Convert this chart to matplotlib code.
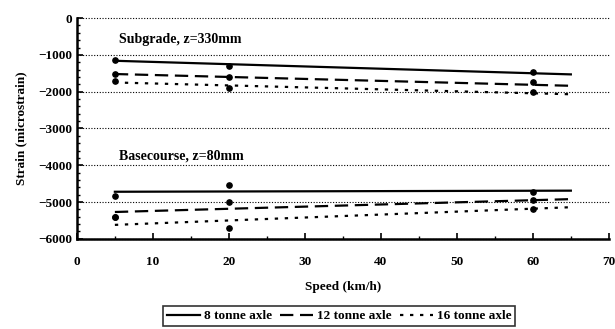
import matplotlib
matplotlib.use('Agg')
from matplotlib import pyplot as plt
from matplotlib.ticker import MultipleLocator

plt.rcParams['font.family'] = ['Liberation Serif', 'DejaVu Serif']
plt.rcParams['font.weight'] = 'bold'

# measured points (speed in km/h, strain in microstrain)
speed = [5, 20, 60]
sub_8 = [-1150, -1300, -1470]
sub_12 = [-1520, -1600, -1750]
sub_16 = [-1710, -1910, -2000]
base_8 = [-4840, -4540, -4730]
base_12 = [-5410, -5000, -4950]
base_16 = [-5400, -5710, -5190]

# trend lines (end values at 5 and 65 km/h)
trend_speed = [5, 65]
sub_8_fit = [-1160, -1530]
sub_12_fit = [-1520, -1840]
sub_16_fit = [-1750, -2070]
base_8_fit = [-4720, -4690]
base_12_fit = [-5270, -4920]
base_16_fit = [-5620, -5140]

labels = ['8 tonne axle', '12 tonne axle', '16 tonne axle']
styles = ['-', (0, (6, 3)), (0, (1.5, 3))]

fig = plt.figure(figsize=(6.15, 3.29), dpi=100)
ax = fig.add_axes([0.125, 0.274, 0.865, 0.671])

groups = [
  (sub_8, sub_8_fit, 0), (sub_12, sub_12_fit, 1), (sub_16, sub_16_fit, 2),
  (base_8, base_8_fit, 0), (base_12, base_12_fit, 1), (base_16, base_16_fit, 2),
]
handles = []
for pts, fit, k in groups:
  ax.plot(speed, pts, 'o', color='black', markersize=3.8)
  h, = ax.plot(trend_speed, fit, color='black', linestyle=styles[k], linewidth=1.6)
  if len(handles) < 3:
    handles.append(h)

ax.set_xlim(0, 70)
ax.set_ylim(-6000, 0)
ax.xaxis.set_major_locator(MultipleLocator(10))
ax.xaxis.set_minor_locator(MultipleLocator(5))
ax.yaxis.set_major_locator(MultipleLocator(1000))
ax.yaxis.set_minor_locator(MultipleLocator(200))
ax.tick_params(which='both', direction='in', labelsize=9.5)
ax.tick_params(which='major', length=4, width=1.2)
ax.tick_params(which='minor', length=2.5, width=1)
ax.tick_params(axis='x', pad=12)
for side in ['top', 'right']:
  ax.spines[side].set_visible(False)
for side in ['left', 'bottom']:
  ax.spines[side].set_linewidth(1.8)
ax.grid(axis='y', linestyle=(0, (1, 1.5)), color='black', linewidth=0.8)
for gl in ax.get_ygridlines():
  gl.set_clip_on(False)

ax.text(5.5, -680, 'Subgrade, z=330mm', fontsize=10, fontweight='bold')
ax.text(5.5, -3840, 'Basecourse, z=80mm', fontsize=10, fontweight='bold')

ax.set_xlabel('Speed (km/h)', fontsize=9.5, fontweight='bold', labelpad=10)
ax.set_ylabel('Strain (microstrain)', fontsize=9.5, fontweight='bold', labelpad=8)

leg = fig.legend(handles, labels, loc='upper left', bbox_to_anchor=(0.255, 0.09),
                 ncol=3, frameon=True, fancybox=False, edgecolor='black',
                 handlelength=2.5, handletextpad=0.3,
                 columnspacing=0.6, borderpad=0.3, prop={'weight': 'bold', 'size': 9.5})
leg.get_frame().set_linewidth(1.2)

fig.savefig('out.png', dpi=100)
